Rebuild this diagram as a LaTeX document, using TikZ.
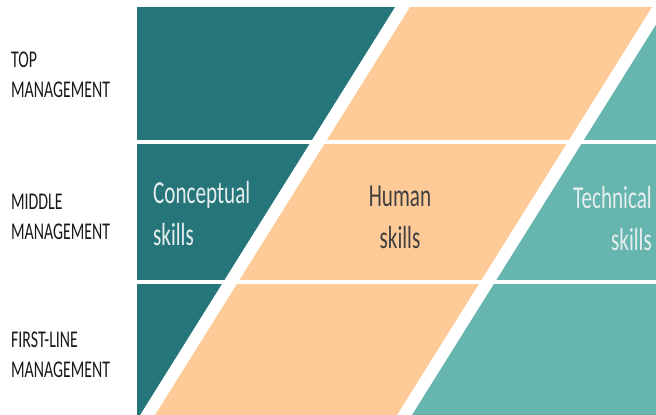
\documentclass[tikz,border=0pt]{standalone}
\usepackage{fontspec}
\newfontfamily\cnd[FakeStretch=0.66]{Carlito}
\definecolor{darkteal}{HTML}{26757A}
\definecolor{peach}{HTML}{FDCA98}
\definecolor{lightteal}{HTML}{66B5AE}
\definecolor{darktext}{HTML}{404040}
\definecolor{lighttext}{HTML}{E6EFEE}
\tikzset{
  lvl/.style={anchor=base west, inner sep=0pt, align=left, text=black!90,
    font=\cnd\fontsize{24}{29.5}\selectfont},
  skl/.style={inner sep=0pt, font=\cnd\fontsize{32}{42}\selectfont},
  gapline/.style={white, line width=4pt}
}
\begin{document}
\begin{tikzpicture}[x=1pt,y=-1pt]
\useasboundingbox (0,0) rectangle (656,415);
% bands
\fill[darkteal] (137,7) -- (395,7) -- (140,415) -- (137,415) -- cycle;
\fill[peach] (410,7) -- (652,7) -- (397,415) -- (155,415) -- cycle;
\fill[lightteal] (656,24.6) -- (656,415) -- (412,415) -- cycle;
% row gaps
\draw[gapline] (137,142) -- (656,142);
\draw[gapline] (137,282) -- (656,282);
% level labels
\node[lvl] (top) at (11,97) {TOP\\MANAGEMENT};
\node[lvl] (mid) at (11,239) {MIDDLE\\MANAGEMENT};
\node[lvl] (first) at (11,377) {FIRST-LINE\\MANAGEMENT};
% skill labels
\node[skl, anchor=base west, align=left, text=lighttext] (concept) at (153,245) {Conceptual\\skills};
\node[skl, anchor=base, align=center, text=darktext] (human) at (400,248) {Human\\skills};
\node[skl, anchor=base east, align=right, text=lighttext] (tech) at (652,250) {Technical\\skills};
\end{tikzpicture}
\end{document}
